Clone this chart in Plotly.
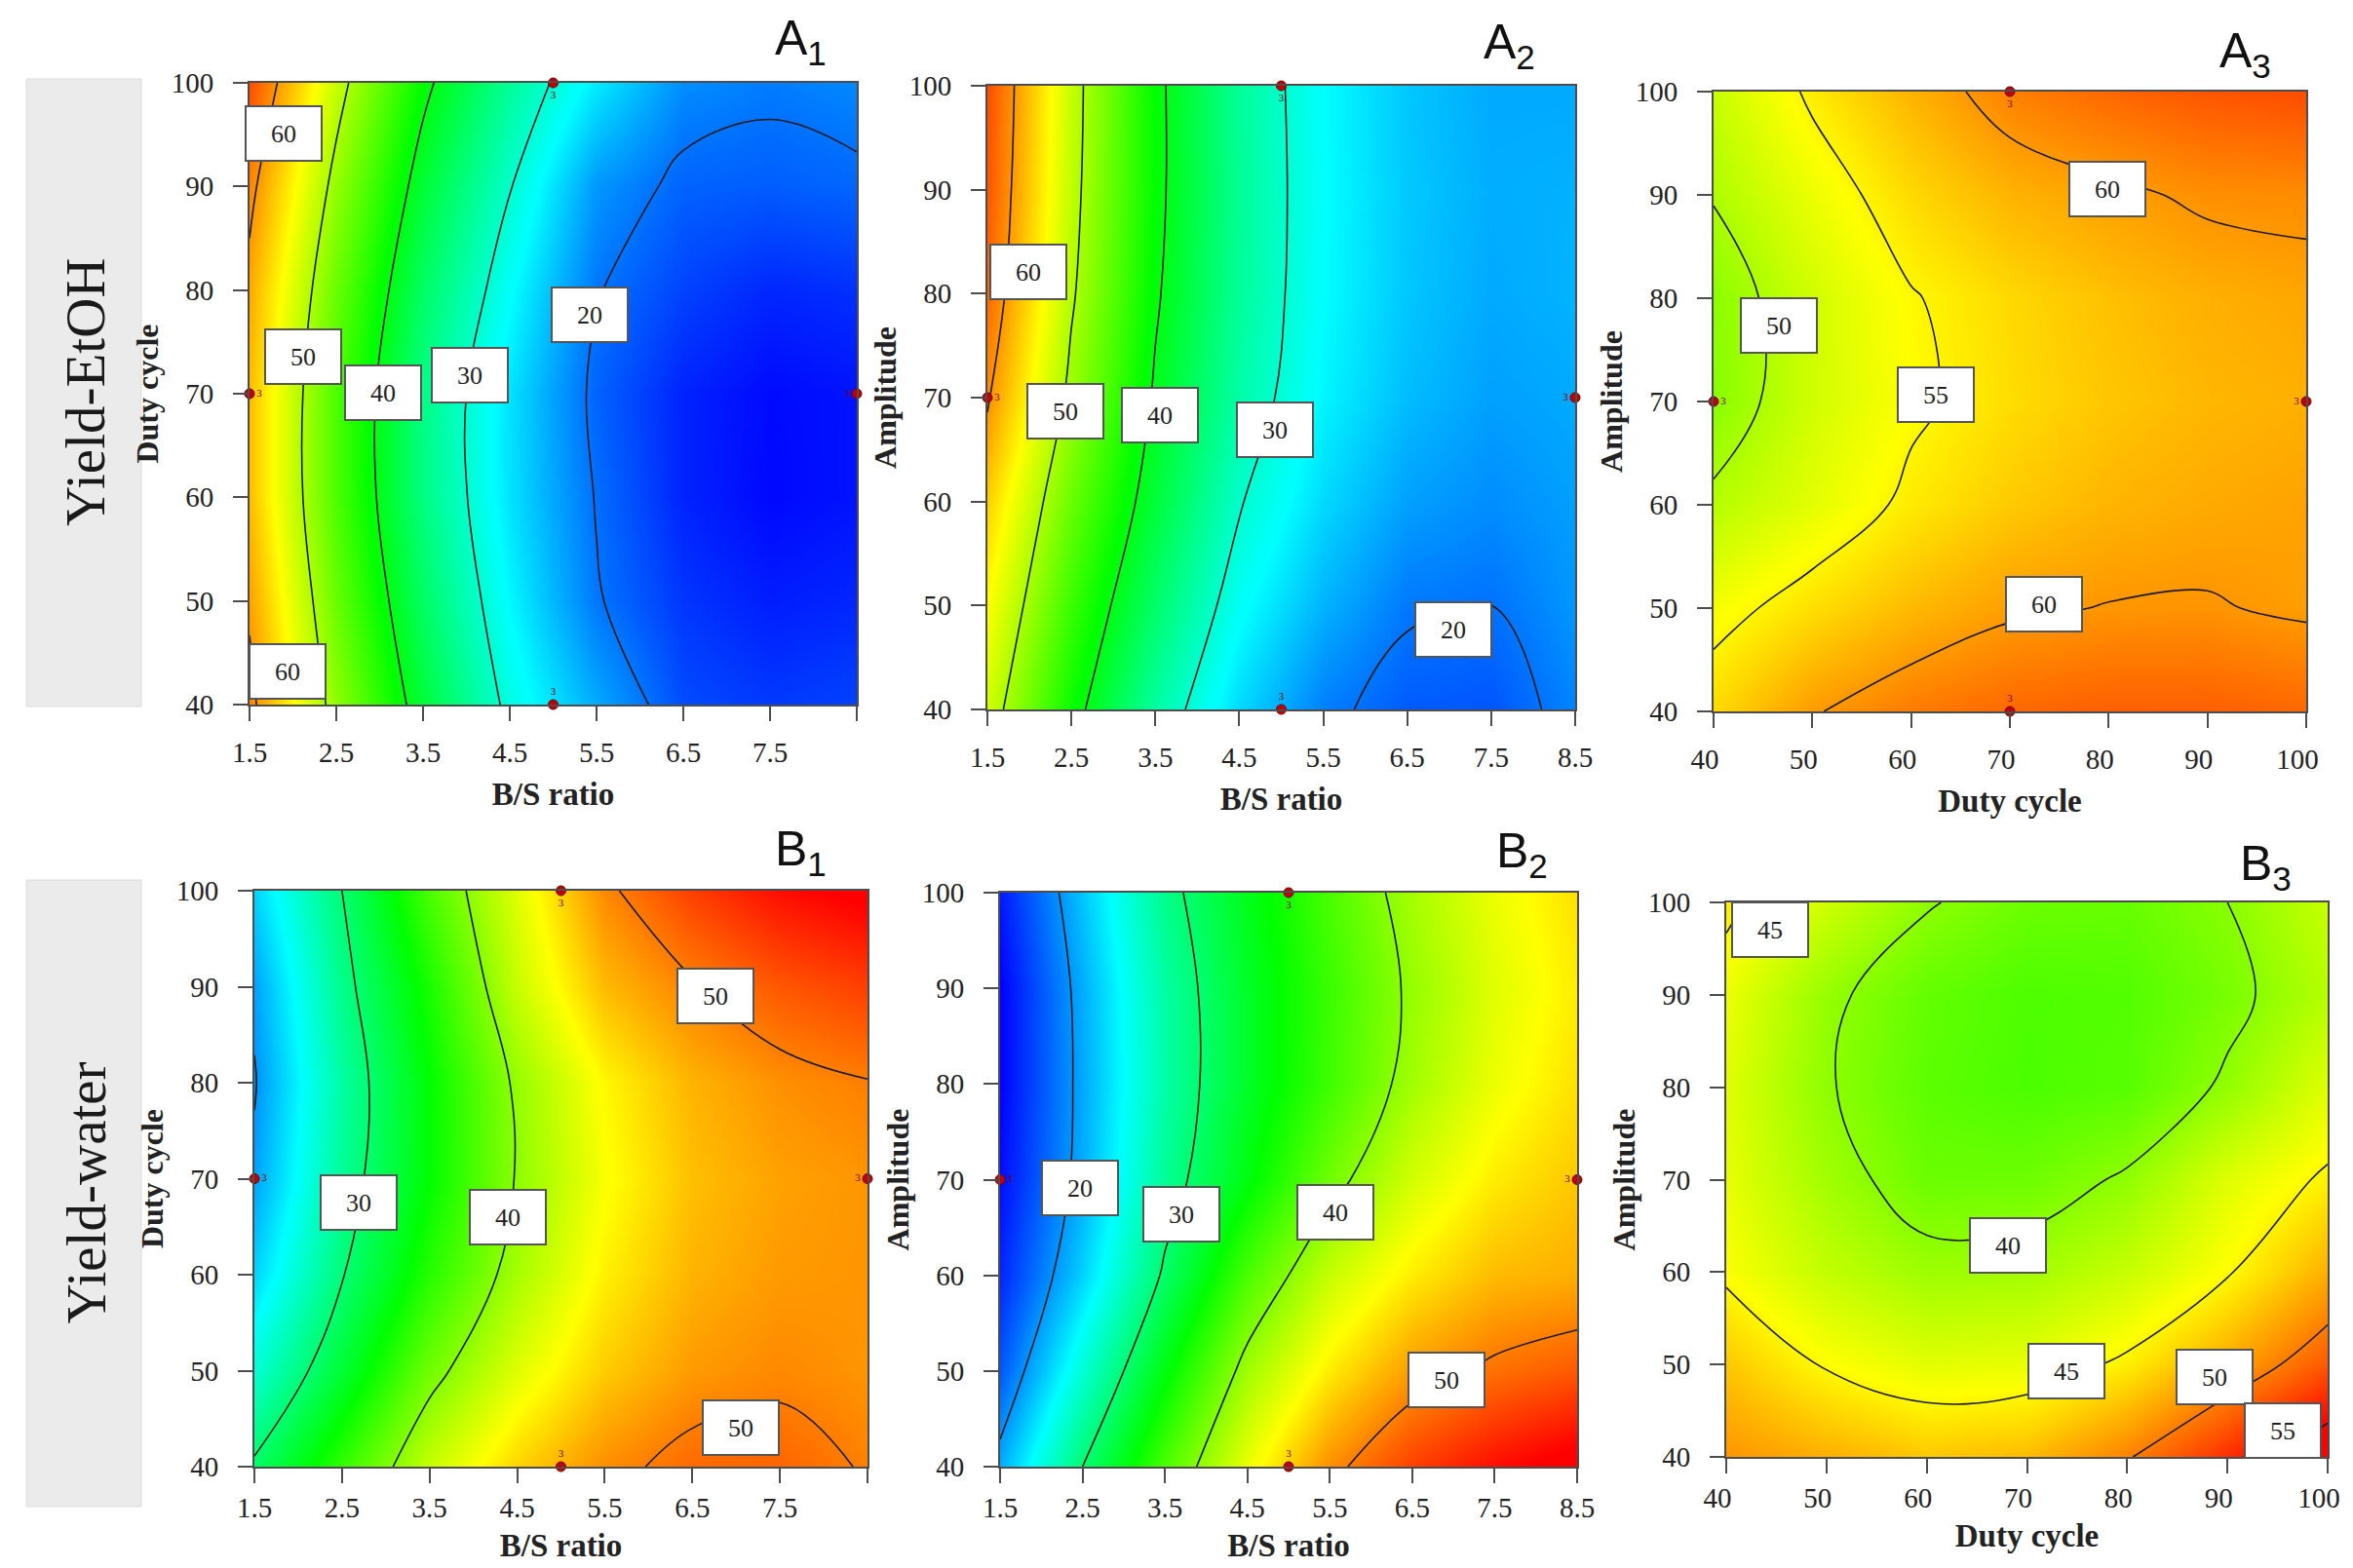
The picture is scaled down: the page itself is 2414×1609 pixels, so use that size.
import plotly.graph_objects as go

W, H = 2414, 1609

# ---- data ----
bs_ratio = [1.5, 2.5, 3.5, 4.5, 5.5, 6.5, 7.5, 8.5]
duty_cycle = [40, 50, 60, 70, 80, 90, 100]
amplitude = [40, 50, 60, 70, 80, 90, 100]

# Yield-EtOH (rows: y = 40 ... 100)
a1_z = [  # B/S ratio x Duty cycle
    [61.0, 48.5, 38.0, 29.0, 23.0, 18.0, 17.0, 17.5],
    [59.5, 46.5, 35.8, 27.2, 20.3, 16.8, 15.5, 16.0],
    [58.0, 45.0, 34.2, 26.0, 19.8, 15.8, 14.4, 15.0],
    [58.0, 45.0, 34.0, 26.0, 19.2, 15.8, 14.5, 15.0],
    [59.0, 46.5, 35.8, 27.8, 20.2, 17.5, 16.0, 16.5],
    [61.0, 48.8, 38.2, 30.2, 22.0, 19.2, 18.9, 19.4],
    [64.0, 51.5, 41.0, 33.0, 26.5, 21.5, 20.6, 21.2],
]
a2_z = [  # B/S ratio x Amplitude
    [52.0, 41.5, 32.5, 25.5, 20.7, 18.8, 18.5, 21.0],
    [54.5, 44.0, 35.5, 28.0, 23.5, 20.4, 20.0, 22.0],
    [57.0, 46.5, 38.0, 30.3, 25.5, 22.5, 21.5, 22.5],
    [60.5, 49.0, 39.5, 32.2, 27.0, 24.0, 22.5, 23.0],
    [62.5, 50.5, 40.5, 33.0, 27.5, 24.5, 23.0, 23.5],
    [63.5, 51.2, 41.0, 33.2, 27.6, 24.6, 23.2, 23.4],
    [64.0, 51.5, 41.0, 33.0, 27.5, 24.5, 23.0, 23.0],
]
a3_z = [  # Duty cycle x Amplitude
    [56.5, 59.8, 61.5, 62.5, 63.0, 63.0, 62.5],
    [54.0, 56.2, 58.2, 59.6, 60.1, 60.2, 59.6],
    [50.6, 53.0, 55.6, 57.3, 58.4, 59.0, 59.4],
    [48.2, 52.0, 54.5, 56.3, 57.5, 58.3, 58.7],
    [48.3, 52.0, 54.8, 56.5, 57.8, 58.7, 59.2],
    [50.2, 53.5, 56.5, 58.5, 59.5, 60.4, 60.6],
    [51.5, 55.5, 58.5, 61.2, 62.5, 63.5, 64.0],
]

# Yield-water
b1_z = [  # B/S ratio x Duty cycle
    [30.5, 36.5, 42.5, 46.5, 49.3, 50.8, 51.0, 49.8],
    [26.0, 32.5, 39.0, 43.5, 46.8, 48.8, 49.5, 49.0],
    [22.5, 29.8, 36.0, 41.2, 45.3, 47.8, 48.8, 49.0],
    [20.5, 28.5, 34.5, 40.2, 44.5, 47.3, 48.5, 49.0],
    [19.8, 28.0, 34.5, 40.5, 45.0, 47.8, 49.2, 49.9],
    [20.5, 29.0, 35.5, 42.5, 47.5, 49.8, 51.5, 52.5],
    [22.5, 30.0, 37.5, 43.5, 49.5, 52.5, 54.5, 55.5],
]
b2_z = [  # B/S ratio x Amplitude
    [21.0, 30.0, 37.5, 44.0, 49.3, 52.5, 54.5, 56.0],
    [17.5, 26.0, 34.0, 41.0, 45.5, 48.8, 50.5, 51.5],
    [15.5, 22.5, 30.5, 37.5, 42.5, 45.5, 47.5, 48.0],
    [14.5, 21.0, 28.5, 34.0, 39.0, 43.0, 45.5, 47.0],
    [14.0, 20.8, 27.8, 33.0, 37.0, 41.0, 44.0, 46.0],
    [14.0, 21.0, 28.0, 33.0, 36.8, 40.5, 43.5, 45.5],
    [15.0, 22.0, 29.0, 33.5, 37.5, 41.2, 44.0, 46.0],
]
b3_z = [  # Duty cycle x Amplitude
    [49.0, 48.0, 47.0, 47.5, 49.8, 53.2, 57.0],
    [47.0, 44.8, 43.6, 43.8, 45.4, 48.3, 51.5],
    [44.6, 42.3, 40.8, 41.0, 42.5, 44.8, 48.0],
    [43.8, 41.0, 38.8, 38.9, 40.3, 43.5, 45.3],
    [43.5, 40.2, 38.2, 37.5, 38.0, 40.4, 43.5],
    [44.0, 40.5, 38.5, 37.6, 37.8, 39.3, 41.8],
    [45.5, 42.8, 40.2, 38.8, 38.6, 40.0, 42.5],
]

# contour label boxes: (value, x, y)
a1_labels = [(60, 1.89, 95.1), (60, 1.94, 43.2), (50, 2.12, 73.6), (40, 3.04, 70.1), (30, 4.04, 71.8), (20, 5.42, 77.6)]
a2_labels = [(60, 1.99, 82.1), (50, 2.43, 68.7), (40, 3.55, 68.3), (30, 4.93, 66.9), (20, 7.05, 47.7)]
a3_labels = [(60, 79.9, 90.6), (50, 46.6, 77.4), (55, 62.5, 70.7), (60, 73.5, 50.4)]
b1_labels = [(50, 6.76, 89.0), (50, 7.05, 44.1), (30, 2.69, 67.5), (40, 4.39, 66.0)]
b2_labels = [(20, 2.47, 69.1), (30, 3.70, 66.4), (40, 5.57, 66.6), (50, 6.92, 49.1)]
b3_labels = [(45, 44.4, 97.0), (40, 68.1, 62.9), (45, 73.9, 49.3), (50, 88.7, 48.6), (55, 95.5, 42.8)]

# design points (3 replicates each)
bs_pts_x = [1.5, 8.5, 5.0, 5.0]
bs_pts_y = [70, 70, 100, 40]
dc_pts_x = [40, 100, 70, 70]
dc_pts_y = [70, 70, 100, 40]

row_names = ["Yield-EtOH", "Yield-water"]
bs_ticks = [1.5, 2.5, 3.5, 4.5, 5.5, 6.5, 7.5, 8.5]
pct_ticks = [40, 50, 60, 70, 80, 90, 100]

jet = [[0, "#0000ff"], [0.25, "#00ffff"], [0.5, "#00ff00"], [0.75, "#ffff00"], [1, "#ff0000"]]

# row, sub, z, x, y, xtitle, ytitle, levels, zrange, labels, points, frame px (l, r, t, b), title px
panels = [
    ("A", "1", a1_z, bs_ratio, duty_cycle, "B/S ratio", "Duty cycle", (20, 60, 10), (14, 68), a1_labels,
     (bs_pts_x, bs_pts_y), (248, 871, 77, 715), (813, 34)),
    ("A", "2", a2_z, bs_ratio, amplitude, "B/S ratio", "Amplitude", (20, 60, 10), (14, 68), a2_labels,
     (bs_pts_x, bs_pts_y), (1005, 1608, 80, 720), (1541, 39)),
    ("A", "3", a3_z, duty_cycle, amplitude, "Duty cycle", "Amplitude", (50, 60, 5), (14, 68), a3_labels,
     (dc_pts_x, dc_pts_y), (1750, 2358, 86, 722), (2295, 47)),
    ("B", "1", b1_z, bs_ratio, duty_cycle, "B/S ratio", "Duty cycle", (20, 50, 10), (14, 55), b1_labels,
     (bs_pts_x, bs_pts_y), (253, 882, 906, 1497), (813, 866)),
    ("B", "2", b2_z, bs_ratio, amplitude, "B/S ratio", "Amplitude", (20, 50, 10), (14, 55), b2_labels,
     (bs_pts_x, bs_pts_y), (1018, 1610, 908, 1497), (1554, 869)),
    ("B", "3", b3_z, duty_cycle, amplitude, "Duty cycle", "Amplitude", (40, 55, 5), (14, 55), b3_labels,
     None, (1763, 2380, 918, 1487), (2316, 881)),
]

serif = "Liberation Serif"
fig = go.Figure()
annotations = []
layout_axes = {}

for i, (row, sub, z, xv, yv, xt, yt, lev, zr, labels, pts, frame, tpos) in enumerate(panels, start=1):
    sfx = "" if i == 1 else str(i)
    xa, ya = "x" + sfx, "y" + sfx
    fig.add_trace(go.Contour(
        x=xv, y=yv, z=z, xaxis=xa, yaxis=ya,
        colorscale=jet, zmin=zr[0], zmax=zr[1], showscale=False,
        contours=dict(coloring="heatmap", start=lev[0], end=lev[1], size=lev[2]),
        line=dict(color="#1a1a1a", width=1.6, smoothing=1.1),
        hoverinfo="skip",
    ))
    if pts is not None:
        fig.add_trace(go.Scatter(
            x=pts[0], y=pts[1], xaxis=xa, yaxis=ya, mode="markers+text",
            text=["3"] * len(pts[0]),
            textposition=["middle right", "middle left", "bottom center", "top center"],
            textfont=dict(size=11, color="#7a0000", family=serif),
            marker=dict(color="#c00000", size=10, line=dict(color="#700000", width=1)),
            cliponaxis=False, showlegend=False, hoverinfo="skip",
        ))
    for val, lx, ly in labels:
        annotations.append(dict(
            x=lx, y=ly, xref=xa, yref=ya, text=str(val), showarrow=False,
            font=dict(family=serif, size=26, color="#222222"),
            bgcolor="white", bordercolor="#555555", borderwidth=2,
            width=74, height=52,
        ))
    l, r, t, b = frame
    if xv is bs_ratio:
        ticktext = [f"{v}" for v in bs_ticks]
        if sub == "1":
            ticktext[-1] = " "
        xaxis = dict(range=[1.5, 8.5], tickvals=bs_ticks, ticktext=ticktext)
    else:
        xaxis = dict(range=[40, 100], tickvals=pct_ticks, ticklabelshift=-9)
    common = dict(
        showgrid=False, zeroline=False, showline=True, mirror=True,
        linecolor="#4d4d4d", linewidth=2, ticks="outside", ticklen=15,
        tickwidth=2, tickcolor="#4d4d4d", automargin=False,
        tickfont=dict(family=serif, size=29, color="#222222"),
    )
    lab_off, tit_off = (7, 16) if row == "A" else (0, 12)
    xaxis.update(common)
    xaxis.update(domain=[l / W, r / W], anchor=ya, ticklabelstandoff=lab_off,
                 title=dict(text=f"<b>{xt}</b>", standoff=tit_off,
                            font=dict(family=serif, size=33, color="#222222")))
    yaxis = dict(range=[40, 100], tickvals=pct_ticks)
    yaxis.update(common)
    yaxis.update(domain=[1 - b / H, 1 - t / H], anchor=xa, ticklabelstandoff=14,
                 title=dict(text=f"<b>{yt}</b>", standoff=4,
                            font=dict(family=serif, size=32, color="#222222")))
    layout_axes["xaxis" + sfx] = xaxis
    layout_axes["yaxis" + sfx] = yaxis
    annotations.append(dict(
        x=tpos[0] / W, y=1 - tpos[1] / H, xref="paper", yref="paper",
        text=f"{row}<sub>{sub}</sub>", showarrow=False,
        font=dict(family="Liberation Sans", size=50, color="#111111"),
        xanchor="center", yanchor="middle",
    ))

# row label boxes
shapes = []
row_boxes = [(73, 717), (895, 1538)]
for name, (top, bot) in zip(row_names, row_boxes):
    shapes.append(dict(type="rect", xref="paper", yref="paper",
                       x0=19 / W, x1=137 / W, y0=1 - bot / H, y1=1 - top / H,
                       fillcolor="#ebebeb", line=dict(color="#dddddd", width=1), layer="below"))
    annotations.append(dict(
        x=80 / W, y=1 - (top + bot) / 2 / H, xref="paper", yref="paper",
        text=name, textangle=-90, showarrow=False,
        font=dict(family=serif, size=57, color="#1a1a1a"),
        xanchor="center", yanchor="middle",
    ))

fig.update_layout(
    width=W, height=H, margin=dict(l=0, r=0, t=0, b=0),
    paper_bgcolor="white", plot_bgcolor="white", showlegend=False,
    annotations=annotations, shapes=shapes, **layout_axes,
)

fig.write_html("out.html")
